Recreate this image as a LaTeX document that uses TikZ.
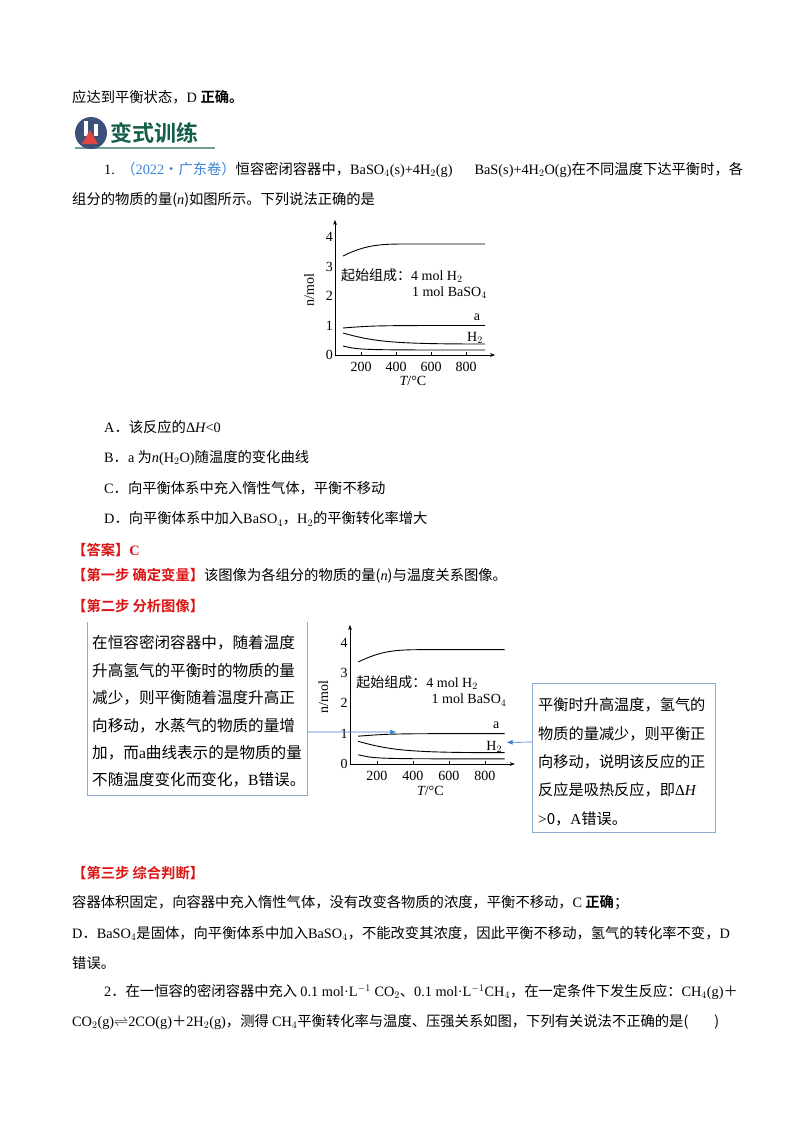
\documentclass[tikz,border=0pt]{standalone}
\usepackage{fontspec}
\usepackage{graphicx}
\setmainfont{Noto Sans CJK SC}[BoldFont={Noto Sans CJK SC Bold}]
\newfontfamily\tm{Liberation Serif}
\usetikzlibrary{arrows.meta}
\definecolor{redt}{RGB}{220,20,20}
\definecolor{bluet}{RGB}{60,130,210}
\definecolor{boxb}{RGB}{140,170,215}
\definecolor{greent}{RGB}{20,95,75}
\definecolor{iconb}{RGB}{60,80,120}
\newcommand{\chartdraw}{%
  \draw[-{Stealth[length=5pt]}] (0,0) -- (0,-135);
  \draw[-{Stealth[length=5pt]}] (0,0) -- (160,0);
  \foreach \v in {0,1,2,3,4} {\node[tk,anchor=east] at (-2,-29.5*\v) {\tm \v};}
  \foreach \x/\t in {26/200,61/400,96/600,131/800} {\draw (\x,0) -- (\x,-3); \node[tk] at (\x,12) {\tm \t};}
  \draw[crv] (8,-99) .. controls (30,-110) and (45,-111) .. (70,-111) -- (150,-111);
  \draw[crv] (8,-27) .. controls (40,-29.5) .. (150,-29.5);
  \draw[crv] (8,-22) .. controls (40,-13) and (60,-11) .. (150,-11);
  \draw[crv] (8,-9) .. controls (25,-5) .. (150,-5);
  \node[tk,anchor=west] (l1) at (6,-79) {起始组成：\tm 4 mol H$_2$};
  \node[tk,anchor=east] (l2) at (152,-62) {\tm 1 mol BaSO$_4$};
  \node[tk] (la) at (142,-38) {\tm a};
  \node[tk] (lh) at (140,-17) {\tm H$_2$};
  \node[tk,rotate=90] (ly) at (-26,-65) {\tm n/mol};
  \node[tk] (lx) at (78,26) {\tm\itshape T\upshape/°C};
}
\begin{document}
\begin{tikzpicture}[x=1pt,y=-1pt,
  body/.style={anchor=west,inner sep=0pt,font=\fontsize{14.3}{16}\selectfont},
  red/.style={body,text=redt,font=\fontsize{14.3}{16}\selectfont\bfseries},
  tk/.style={inner sep=0pt,font=\fontsize{14}{16}\selectfont},
  crv/.style={line width=0.9pt},
  hw/.style={anchor=west,inner sep=0pt,font=\fontsize{15.6}{18}\selectfont},
  hw2/.style={anchor=west,inner sep=0pt,font=\fontsize{15.2}{18}\selectfont},
  conn/.style={bluet,line width=0.7pt,-{Latex[length=6pt,width=5pt]}}]
\useasboundingbox (0,0) rectangle (800,1132);
\fill[white] (0,0) rectangle (800,1132);
% line 1
\node[body] (t0) at (72,97) {应达到平衡状态，\tm D \rm\bfseries 正确。};
% header
\fill[greent!60] (75,147) rectangle (215,148.5);
\fill[iconb] (91,133) circle (16);
\fill[white] (84,121) rectangle (88,136);
\fill[white] (94,124) rectangle (98,136);
\fill[redt!80] (82,144) -- (90,130) -- (98,144) -- cycle;
\node[anchor=west,inner sep=0pt,text=greent,font=\fontsize{22}{24}\selectfont\bfseries] (hd) at (110,133) {变式训练};
% Q1
\node[body] (q1) at (104,170) {{\tm 1.}\ \ \textcolor{bluet}{（{\tm 2022}·广东卷）}恒容密闭容器中，{\tm BaSO$_4$(s)+4H$_2$(g)\hspace{22pt}BaS(s)+4H$_2$O(g)}在不同温度下达平衡时，各};
\node[body] (q1b) at (72,200) {组分的物质的量({\tm\itshape n})如图所示。下列说法正确的是};
% chart 1
\begin{scope}[shift={(335,355)},name prefix=c1-]
\chartdraw
\end{scope}
% options
\node[body] (oA) at (104,427) {{\tm A}．该反应的{\tm Δ\itshape H\upshape <0}};
\node[body] (oB) at (104,458) {{\tm B}．{\tm a} 为{\tm\itshape n\upshape (H$_2$O)}随温度的变化曲线};
\node[body] (oC) at (104,488) {{\tm C}．向平衡体系中充入惰性气体，平衡不移动};
\node[body] (oD) at (104,519) {{\tm D}．向平衡体系中加入{\tm BaSO$_4$}，{\tm H$_2$}的平衡转化率增大};
\node[red] (ans) at (72,550) {【答案】{\tm\bfseries C}};
\node[body] (s1) at (72,576) {\textcolor{redt}{\bfseries【第一步\ 确定变量】}该图像为各组分的物质的量({\tm\itshape n})与温度关系图像。};
\node[red] (s2) at (72,606) {【第二步\ 分析图像】};
% left box
\draw[boxb,line width=0.8pt] (87,622) -- (87,795) -- (307,795) -- (307,622);
\coordinate (lbR) at (307,732);
\foreach \y/\t in {643/在恒容密闭容器中，随着温度,671/升高氢气的平衡时的物质的量,698/减少，则平衡随着温度升高正,726/向移动，水蒸气的物质的量增,753/加，而{\tm a}曲线表示的是物质的量,780/不随温度变化而变化，{\tm B}错误。}
  {\node[hw] at (92,\y) {\t};}
% chart 2
\begin{scope}[shift={(350,764)},scale=1.03,name prefix=c2-]
\chartdraw
\coordinate (ta) at (45,-31);
\coordinate (th) at (152,-21);
\end{scope}
% right box
\draw[boxb,line width=0.8pt] (532,683) rectangle (715,832);
\coordinate (rbL) at (532,742);
\foreach \y/\t in {705/平衡时升高温度，氢气的,734/物质的量减少，则平衡正,762/向移动，说明该反应的正,790/反应是吸热反应，即{\tm Δ\itshape H},819/{\tm >}0，{\tm A}错误。}
  {\node[hw2] at (538,\y) {\t};}
\draw[conn] (lbR) -- (c2-ta);
\draw[conn] (rbL) -- (c2-th);
% step 3
\node[red] (s3) at (72,873) {【第三步\ 综合判断】};
\node[body] (p1) at (72,903) {容器体积固定，向容器中充入惰性气体，没有改变各物质的浓度，平衡不移动，{\tm C} {\bfseries 正确}；};
\node[body] (p2) at (72,933) {{\tm D}．{\tm BaSO$_4$}是固体，向平衡体系中加入{\tm BaSO$_4$}，不能改变其浓度，因此平衡不移动，氢气的转化率不变，{\tm D}};
\node[body] (p3) at (72,963) {错误。};
\node[body] (q2) at (104,992) {{\tm 2}．在一恒容的密闭容器中充入 {\tm 0.1 mol·L$^{-1}$ CO$_2$}、{\tm 0.1 mol·L$^{-1}$CH$_4$}，在一定条件下发生反应：{\tm CH$_4$(g)}＋};
\node[body] (q2b) at (72,1022) {{\tm CO$_2$(g)}$\rightleftharpoons${\tm 2CO(g)}＋{\tm 2H$_2$(g)}，测得 {\tm CH$_4$}平衡转化率与温度、压强关系如图，下列有关说法不正确的是(\hspace{26pt})};
\end{tikzpicture}
\end{document}
